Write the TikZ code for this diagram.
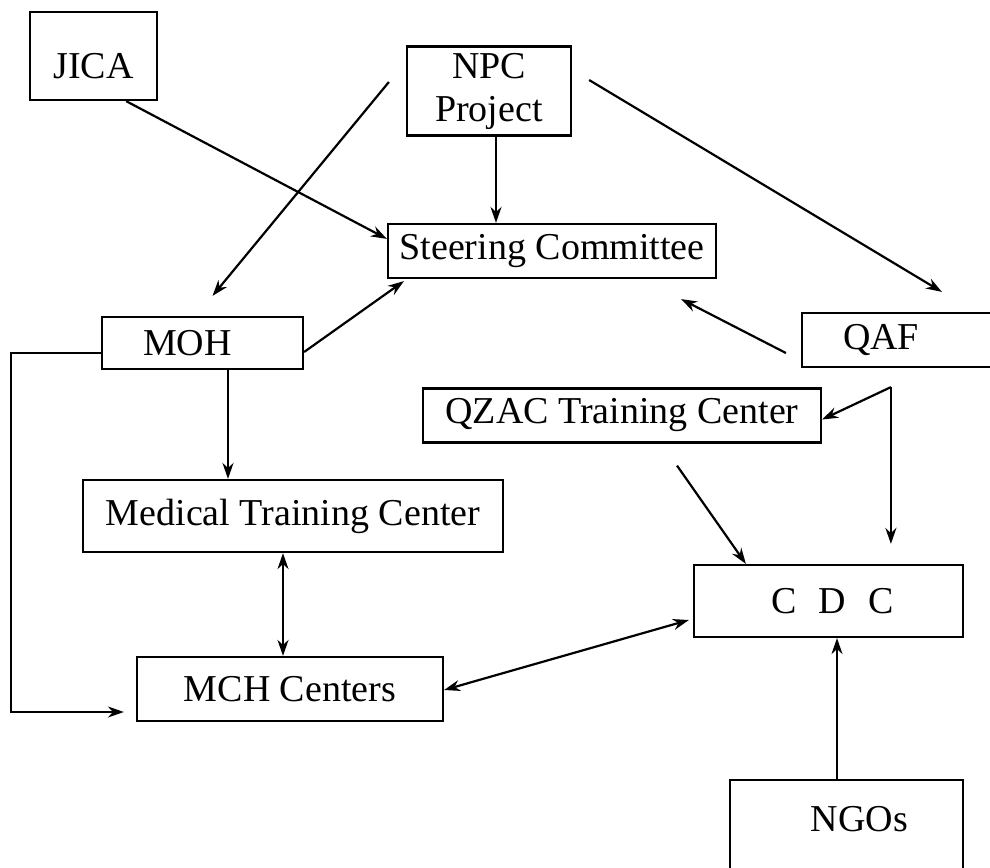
\documentclass[tikz,border=0pt]{standalone}
\usepackage{fontspec}
\setmainfont{Liberation Serif}
\usetikzlibrary{arrows.meta,calc}
\begin{document}
\begin{tikzpicture}[x=0.5pt,y=-0.5pt,
  box/.style={draw, line width=1.1pt, inner sep=0pt, font=\fontsize{19}{21.5}\selectfont, align=center},
  arr/.style={line width=1.1pt, -{Stealth[length=8pt,width=5.5pt]}},
  darr/.style={line width=1.1pt, {Stealth[length=8pt,width=5.5pt]}-{Stealth[length=8pt,width=5.5pt]}},
  ln/.style={line width=1.1pt}]
\useasboundingbox (0,0) rectangle (990,867);
\clip (0,0) rectangle (990,867);

\node[box, minimum width=63.5pt, minimum height=44pt, text height=22pt, text depth=0pt] (JICA) at (93.5,56) {JICA};
\node[box, minimum width=82pt, minimum height=44.5pt] (NPC) at (489,91) {NPC\\Project};
\node[box, minimum width=164pt, minimum height=27pt] (Steering) at (552,251) {Steering Committee};
\node[box, minimum width=100.5pt, minimum height=26pt] (MOH) at (202.5,343) {MOH\hspace{15pt}};
\node[box, minimum width=104pt, minimum height=27pt] (QAF) at (906,340) {QAF\hspace{25pt}};
\node[box, minimum width=199pt, minimum height=27pt] (QZAC) at (622,415.5) {QZAC Training Center};
\node[box, minimum width=210pt, minimum height=36pt] (Med) at (293,516) {Medical Training Center};
\node[box, minimum width=134.5pt, minimum height=36pt] (CDC) at (828.5,601) {\hspace{4pt}C\hspace{11pt}D\hspace{11pt}C};
\node[box, minimum width=153pt, minimum height=32pt] (MCH) at (290,689) {MCH Centers};
\node[box, minimum width=116.5pt, minimum height=60pt] (NGOs) at (846.5,840) {\hspace{13pt}NGOs\\\mbox{}};

\coordinate (qa) at ($(QAF.south west)+(90,19)$);
\coordinate (mc) at ($(MCH.west)+(-12,23)$);
\coordinate (ns) at ($(NPC.south)+(7,0)$);
\coordinate (ms) at ($(Med.south)+(-10,0)$);
\coordinate (os) at ($(MOH.south)+(25.5,0)$);
\coordinate (gn) at ($(NGOs.north)+(-9.5,0)$);

\draw[arr] ($(JICA.south east)+(-32,0)$) -- ($(Steering.north west)+(0,16)$);
\draw[arr] ($(NPC.west)+(-17,-9)$) -- ($(MOH.north)+(10,-20)$);
\draw[arr] (ns) -- (ns |- Steering.north);
\draw[arr] ($(NPC.east)+(17,-11)$) -- ($(QAF.north west)+(141,-20)$);
\draw[arr] ($(MOH.east)+(0,9)$) -- ($(Steering.south west)+(17,2)$);
\draw[arr] ($(QAF.west)+(-15,13)$) -- ($(Steering.south east)+(-36,20)$);
\draw[arr] (qa) -- ($(QZAC.east)+(0,4)$);
\draw[arr] (qa) -- ($(qa |- CDC.north)+(0,-20)$);
\draw[arr] ($(QZAC.south)+(55,22)$) -- ($(CDC.north west)+(53,0)$);
\draw[arr] ($(MOH.west)+(0,10)$) -- ++(-90,0) |- (mc);
\draw[darr] (ms) -- (ms |- MCH.north);
\draw[arr] (os) -- (os |- Med.north);
\draw[darr] ($(MCH.east)+(0,1)$) -- ($(CDC.west)+(-4,19)$);
\draw[arr] (gn) -- (gn |- CDC.south);
\end{tikzpicture}
\end{document}
